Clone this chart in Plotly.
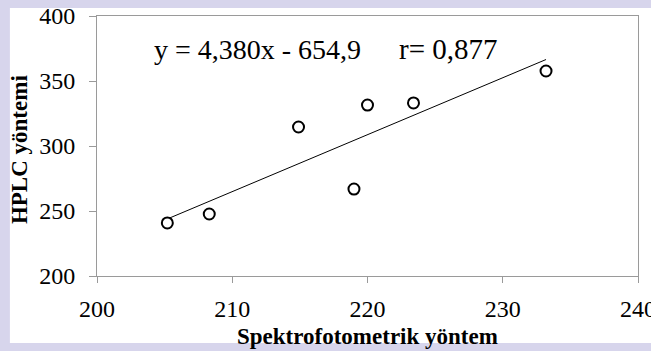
import plotly.graph_objects as go

# Data
spektro = [205.2, 208.3, 214.9, 219.0, 220.0, 223.4, 233.2]
hplc = [240.8, 247.7, 314.6, 266.9, 331.5, 333.1, 357.7]
slope = 4.380
intercept = -654.9
r_value = 0.877
x_ticks = [200, 210, 220, 230, 240]
y_ticks = [200, 250, 300, 350, 400]

eq_text = "y = 4,380x - 654,9"
r_text = "r= 0,877"

x_line = [min(spektro), max(spektro)]
y_line = [slope * v + intercept for v in x_line]

SERIF = "Liberation Serif"
GRAY = "#9a9a9a"

fig = go.Figure()
fig.add_trace(go.Scatter(x=x_line, y=y_line, mode="lines",
                         line=dict(color="black", width=1), hoverinfo="skip"))
fig.add_trace(go.Scatter(x=spektro, y=hplc, mode="markers",
                         marker=dict(symbol="circle", size=11, color="white",
                                     line=dict(color="black", width=2))))

fig.update_layout(
    width=651, height=351,
    margin=dict(l=97, r=13, t=16, b=75),
    paper_bgcolor="#d7d5ec",
    plot_bgcolor="white",
    showlegend=False,
    font=dict(family=SERIF, color="black"),
    shapes=[dict(type="rect", xref="paper", yref="paper", layer="below",
                 x0=-0.161, x1=1.03, y0=-0.258, y1=1.031,
                 fillcolor="white", line=dict(width=0))],
    annotations=[
        dict(text=eq_text, x=204.1, y=374.6, xref="x", yref="y",
             xanchor="left", yanchor="middle", showarrow=False,
             font=dict(family=SERIF, size=28, color="black")),
        dict(text=r_text, x=222.2, y=374.6, xref="x", yref="y",
             xanchor="left", yanchor="middle", showarrow=False,
             font=dict(family=SERIF, size=29, color="black")),
        dict(text="<b>Spektrofotometrik yöntem</b>", x=0.5, y=-0.232,
             xref="paper", yref="paper", xanchor="center", yanchor="middle",
             showarrow=False, font=dict(family=SERIF, size=23, color="black")),
        dict(text="<b>HPLC yöntemi</b>", x=-0.142, y=0.485, textangle=-90,
             xref="paper", yref="paper", xanchor="center", yanchor="middle",
             showarrow=False, font=dict(family=SERIF, size=23, color="black")),
    ],
)
fig.update_xaxes(range=[200, 240], tickvals=x_ticks, ticks="outside", ticklen=6,
                 tickcolor=GRAY, showline=True, linecolor=GRAY, linewidth=1,
                 mirror=True, showgrid=False, zeroline=False, automargin=False,
                 tickfont=dict(family=SERIF, size=24, color="black"),
                 ticklabelstandoff=5, ticklabeloverflow="allow")
fig.update_yaxes(range=[200, 400], tickvals=y_ticks, ticks="outside", ticklen=7,
                 tickcolor=GRAY, showline=True, linecolor=GRAY, linewidth=1,
                 mirror=True, showgrid=False, zeroline=False, automargin=False,
                 tickfont=dict(family=SERIF, size=24, color="black"),
                 ticklabelstandoff=9)

fig.write_html(
    "out.html",
    config={"displayModeBar": False},
    post_script="document.body.style.margin='0';document.body.style.overflow='hidden';"
                "document.body.style.background='#d7d5ec';",
)
